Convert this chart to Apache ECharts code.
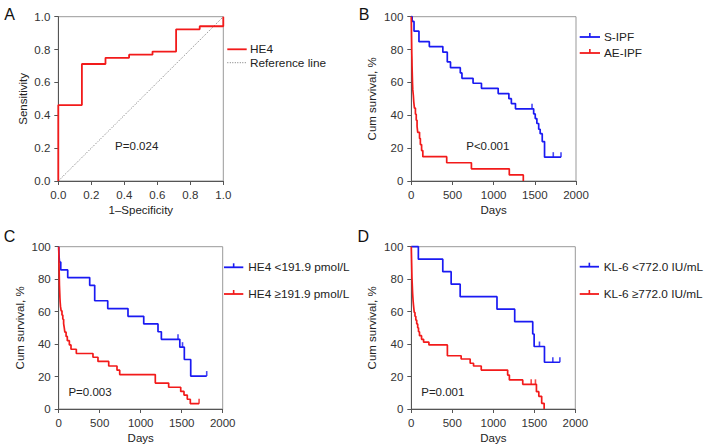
<!DOCTYPE html>
<html><head><meta charset="utf-8">
<script src="https://cdn.jsdelivr.net/npm/echarts@6/dist/echarts.min.js"></script>
<style>html,body{margin:0;padding:0;background:#fff}#c{width:704px;height:448px}</style>
</head><body><div id="c"></div>
<script>
// ---------- Panel A: ROC ----------
const rocFpr = [0, 0, 0.143, 0.286, 0.429, 0.571, 0.714, 0.857, 1];
const rocTpr = [0, 0.462, 0.712, 0.75, 0.769, 0.788, 0.923, 0.942, 1];
const refX = [0, 1];
const refY = [0, 1];
const rocTicks = [0, 0.2, 0.4, 0.6, 0.8, 1.0];

// ---------- Panel B: S-IPF vs AE-IPF ----------
const bBlueDays = [0, 10, 33, 93, 219, 383, 437, 476, 595, 615, 750, 852, 1055, 1185, 1215, 1265, 1486, 1505, 1525, 1547, 1565, 1590, 1618, 1818];
const bBlueSurv = [100, 97.1, 91.2, 84.8, 81.8, 78.4, 72.5, 69.0, 65.8, 62.5, 59.5, 56.4, 53.2, 50.1, 47.1, 43.9, 40.8, 38.0, 35.0, 31.5, 28.8, 24.0, 14.5, 14.5];
const bBlueCensorDays = [1466, 1724, 1818];
const bBlueCensorSurv = [43.9, 14.5, 14.5];
const bRedDays = [0, 1, 2, 3, 4, 5, 6, 8, 9, 11, 13, 15, 18, 25, 30, 38, 50, 60, 70, 78, 100, 110, 125, 140, 430, 730, 1190, 1360];
const bRedSurv = [100, 96.3, 92.6, 88.9, 85.2, 81.5, 77.8, 74.1, 70.4, 66.7, 63.0, 59.3, 55.6, 51.9, 48.1, 44.4, 40.7, 37.0, 33.3, 29.6, 25.9, 22.2, 18.5, 14.8, 11.1, 7.4, 3.7, 0];

// ---------- Panel C: HE4 ----------
const cBlueDays = [0, 3, 10, 25, 110, 378, 439, 598, 845, 1037, 1211, 1252, 1477, 1532, 1610, 1805];
const cBlueSurv = [100, 95.2, 90.5, 85.7, 81.0, 76.2, 66.7, 61.9, 57.1, 52.4, 47.6, 42.9, 38.1, 30.5, 20.3, 20.3];
const cBlueCensorDays = [1455, 1510, 1805];
const cBlueCensorSurv = [42.9, 38.1, 20.3];
const cRedDays = [0, 1, 2, 3, 4, 5, 6, 7, 8, 9, 11, 13, 15, 18, 22, 30, 40, 50, 60, 68, 75, 90, 105, 130, 150, 215, 418, 479, 610, 711, 744, 1178, 1341, 1488, 1528, 1568, 1605, 1712];
const cRedSurv = [100, 97.4, 94.7, 92.1, 89.5, 86.8, 84.2, 81.6, 78.9, 76.3, 73.7, 71.1, 68.4, 65.8, 63.2, 60.5, 57.9, 55.3, 52.6, 50.0, 47.4, 44.7, 42.1, 39.5, 36.8, 34.2, 31.9, 29.3, 26.5, 23.9, 21.2, 16.0, 13.4, 10.8, 8.6, 6.0, 3.3, 3.3];
const cRedCensorDays = [1712];
const cRedCensorSurv = [3.3];

// ---------- Panel D: KL-6 ----------
const dBlueDays = [0, 86, 384, 486, 596, 1045, 1261, 1481, 1498, 1624, 1812];
const dBlueSurv = [100, 92.3, 84.6, 76.9, 69.2, 61.5, 53.8, 46.2, 38.5, 28.8, 28.8];
const dBlueCensorDays = [1563, 1726, 1812];
const dBlueCensorSurv = [38.5, 28.8, 28.8];
const dRedDays = [0, 1, 2, 3, 4, 5, 6, 7, 8, 10, 12, 14, 16, 19, 22, 26, 31, 36, 45, 55, 66, 78, 88, 100, 125, 150, 215, 440, 608, 718, 759, 853, 1175, 1196, 1359, 1526, 1555, 1590, 1620];
const dRedSurv = [100, 97.6, 95.2, 92.9, 90.5, 88.1, 85.7, 83.3, 81.0, 78.6, 76.2, 73.8, 71.4, 69.0, 66.7, 64.3, 61.9, 59.5, 57.1, 54.8, 52.4, 50.0, 47.6, 45.2, 42.9, 41.2, 39.5, 32.8, 30.8, 28.2, 26.5, 24.0, 20.9, 17.9, 15.2, 10.7, 7.8, 3.5, 0];
const dRedCensorDays = [1462, 1514];
const dRedCensorSurv = [15.2, 15.2];

const dayTicks = [0, 500, 1000, 1500, 2000];
const survTicks = [0, 20, 40, 60, 80, 100];

// ---------- Labels ----------
const panelLetters = ['A', 'B', 'C', 'D'];
const pValues = ['P=0.024', 'P<0.001', 'P=0.003', 'P=0.001'];
const legendNames = [
  ['HE4', 'Reference line'],
  ['S-IPF', 'AE-IPF'],
  ['HE4 <191.9 pmol/L', 'HE4 \u2265191.9 pmol/L'],
  ['KL-6 <772.0 IU/mL', 'KL-6 \u2265772.0 IU/mL']
];

const FONT = '"Liberation Sans", Arial, Helvetica, sans-serif';
const RED = '#f21a1a';
const BLUE = '#1a1af2';
const AXIS = '#555';
const TXT = '#222';

function zip(xs, ys) { return xs.map((x, i) => [x, ys[i]]); }

const grids = [
  { left: 58.3, top: 16.7, width: 165, height: 164.3 },
  { left: 411.3, top: 16.7, width: 164.7, height: 164.3 },
  { left: 58.7, top: 246.7, width: 164, height: 162.3 },
  { left: 411.3, top: 246.7, width: 164, height: 162.3 }
].map(g => Object.assign({ show: true, borderColor: '#999', borderWidth: 1, containLabel: false }, g));

const labelStyle = (fmt) => ({ fontSize: 11.5, color: '#333', fontFamily: FONT, margin: 8, formatter: fmt });
const fmtDec = v => v.toFixed(1);
const fmtInt = v => String(Math.round(v));

function baseAxis(extra) {
  return Object.assign({
    type: 'value',
    axisLine: { show: true, onZero: false, lineStyle: { color: AXIS, width: 1 } },
    axisTick: { show: true, length: 4, inside: false, lineStyle: { color: AXIS, width: 1 } },
    splitLine: { show: false },
    axisLabel: labelStyle(fmtInt),
    nameLocation: 'middle',
    nameTextStyle: { fontSize: 11.5, color: TXT, fontFamily: FONT }
  }, extra);
}

const xAxes = [
  baseAxis({ gridIndex: 0, min: rocTicks[0], max: rocTicks[rocTicks.length - 1], interval: 0.2, name: '1\u2013Specificity', nameGap: 23, axisLabel: labelStyle(fmtDec) }),
  baseAxis({ gridIndex: 1, min: dayTicks[0], max: dayTicks[dayTicks.length - 1], interval: 500, name: 'Days', nameGap: 23 }),
  baseAxis({ gridIndex: 2, min: dayTicks[0], max: dayTicks[dayTicks.length - 1], interval: 500, name: 'Days', nameGap: 23 }),
  baseAxis({ gridIndex: 3, min: dayTicks[0], max: dayTicks[dayTicks.length - 1], interval: 500, name: 'Days', nameGap: 23 })
];
const yAxes = [
  baseAxis({ gridIndex: 0, min: rocTicks[0], max: rocTicks[rocTicks.length - 1], interval: 0.2, name: 'Sensitivity', nameGap: 29, axisLabel: labelStyle(fmtDec) }),
  baseAxis({ gridIndex: 1, min: survTicks[0], max: survTicks[survTicks.length - 1], interval: 20, name: 'Cum survival, %', nameGap: 33 }),
  baseAxis({ gridIndex: 2, min: survTicks[0], max: survTicks[survTicks.length - 1], interval: 20, name: 'Cum survival, %', nameGap: 33 }),
  baseAxis({ gridIndex: 3, min: survTicks[0], max: survTicks[survTicks.length - 1], interval: 20, name: 'Cum survival, %', nameGap: 33 })
];

function km(name, idx, xs, ys, color) {
  return { name, type: 'line', step: 'end', xAxisIndex: idx, yAxisIndex: idx, data: zip(xs, ys),
    symbol: 'none', lineStyle: { color, width: 1.7 }, itemStyle: { color }, animation: false, z: 3, clip: false };
}
function censor(name, idx, xs, ys, color) {
  return { name, type: 'scatter', xAxisIndex: idx, yAxisIndex: idx, data: zip(xs, ys),
    symbol: 'rect', symbolSize: [1.6, 5], symbolOffset: [0, -2.5], itemStyle: { color }, animation: false, z: 4, silent: true };
}

const series = [
  { name: 'Reference line', type: 'line', xAxisIndex: 0, yAxisIndex: 0, data: zip(refX, refY), symbol: 'none',
    lineStyle: { color: '#777', width: 1, type: [1, 1.5] }, animation: false, z: 2 },
  { name: 'HE4', type: 'line', step: 'end', xAxisIndex: 0, yAxisIndex: 0, data: zip(rocFpr, rocTpr), symbol: 'none',
    lineStyle: { color: RED, width: 1.8 }, animation: false, z: 3, clip: false },
  km(legendNames[1][0], 1, bBlueDays, bBlueSurv, BLUE),
  censor('S-IPF censored', 1, bBlueCensorDays, bBlueCensorSurv, BLUE),
  km(legendNames[1][1], 1, bRedDays, bRedSurv, RED),
  km(legendNames[2][0], 2, cBlueDays, cBlueSurv, BLUE),
  censor('HE4 low censored', 2, cBlueCensorDays, cBlueCensorSurv, BLUE),
  km(legendNames[2][1], 2, cRedDays, cRedSurv, RED),
  censor('HE4 high censored', 2, cRedCensorDays, cRedCensorSurv, RED),
  km(legendNames[3][0], 3, dBlueDays, dBlueSurv, BLUE),
  censor('KL-6 low censored', 3, dBlueCensorDays, dBlueCensorSurv, BLUE),
  km(legendNames[3][1], 3, dRedDays, dRedSurv, RED),
  censor('KL-6 high censored', 3, dRedCensorDays, dRedCensorSurv, RED)
];

// ---------- Graphic: panel letters, p-values, legends ----------
const graphic = [];
const letterPos = [[9.5, 14.5], [364, 14.3], [9.5, 236.5], [363.3, 236.8]];
panelLetters.forEach((t, i) => graphic.push({ type: 'text', x: letterPos[i][0], y: letterPos[i][1],
  style: { text: t, fill: '#111', font: '16px ' + FONT, align: 'center', verticalAlign: 'middle' } }));
const pPos = [[136.7, 145.7], [487.8, 145.7], [90, 392.3], [442.8, 392.3]];
pValues.forEach((t, i) => graphic.push({ type: 'text', x: pPos[i][0], y: pPos[i][1],
  style: { text: t, fill: TXT, font: '11.5px ' + FONT, align: 'center', verticalAlign: 'middle' } }));

// legend items: [x1, x2, y, textX, color, dotted, tick]
const legendLayout = [
  [[227.3, 246.7, 49.3, 250, RED, false, false], [227.3, 246.7, 62.7, 250, '#777', true, false]],
  [[579.7, 600, 37, 604, BLUE, false, true], [579.7, 600, 53, 604, RED, false, true]],
  [[224, 243.3, 267.3, 248.3, BLUE, false, true], [224, 243.3, 294, 248.3, RED, false, true]],
  [[579.7, 599, 266.7, 603.7, BLUE, false, true], [579.7, 599, 294, 603.7, RED, false, true]]
];
legendLayout.forEach((items, p) => items.forEach((it, k) => {
  const [x1, x2, y, tx, col, dotted, tick] = it;
  graphic.push({ type: 'line', shape: { x1, y1: y, x2, y2: y },
    style: { stroke: col, lineWidth: dotted ? 1 : 1.8, lineDash: dotted ? [1, 1.5] : null } });
  if (tick) graphic.push({ type: 'rect', shape: { x: (x1 + x2) / 2 - 0.8, y: y - 4, width: 1.6, height: 4 }, style: { fill: col } });
  graphic.push({ type: 'text', x: tx, y, style: { text: legendNames[p][k], fill: TXT, font: '11.8px ' + FONT, align: 'left', verticalAlign: 'middle' } });
}));

const chart = echarts.init(document.getElementById('c'), null, { renderer: 'svg' });
chart.setOption({
  backgroundColor: '#fff',
  animation: false,
  textStyle: { fontFamily: FONT },
  grid: grids,
  xAxis: xAxes,
  yAxis: yAxes,
  series,
  graphic
});
</script></body></html>
